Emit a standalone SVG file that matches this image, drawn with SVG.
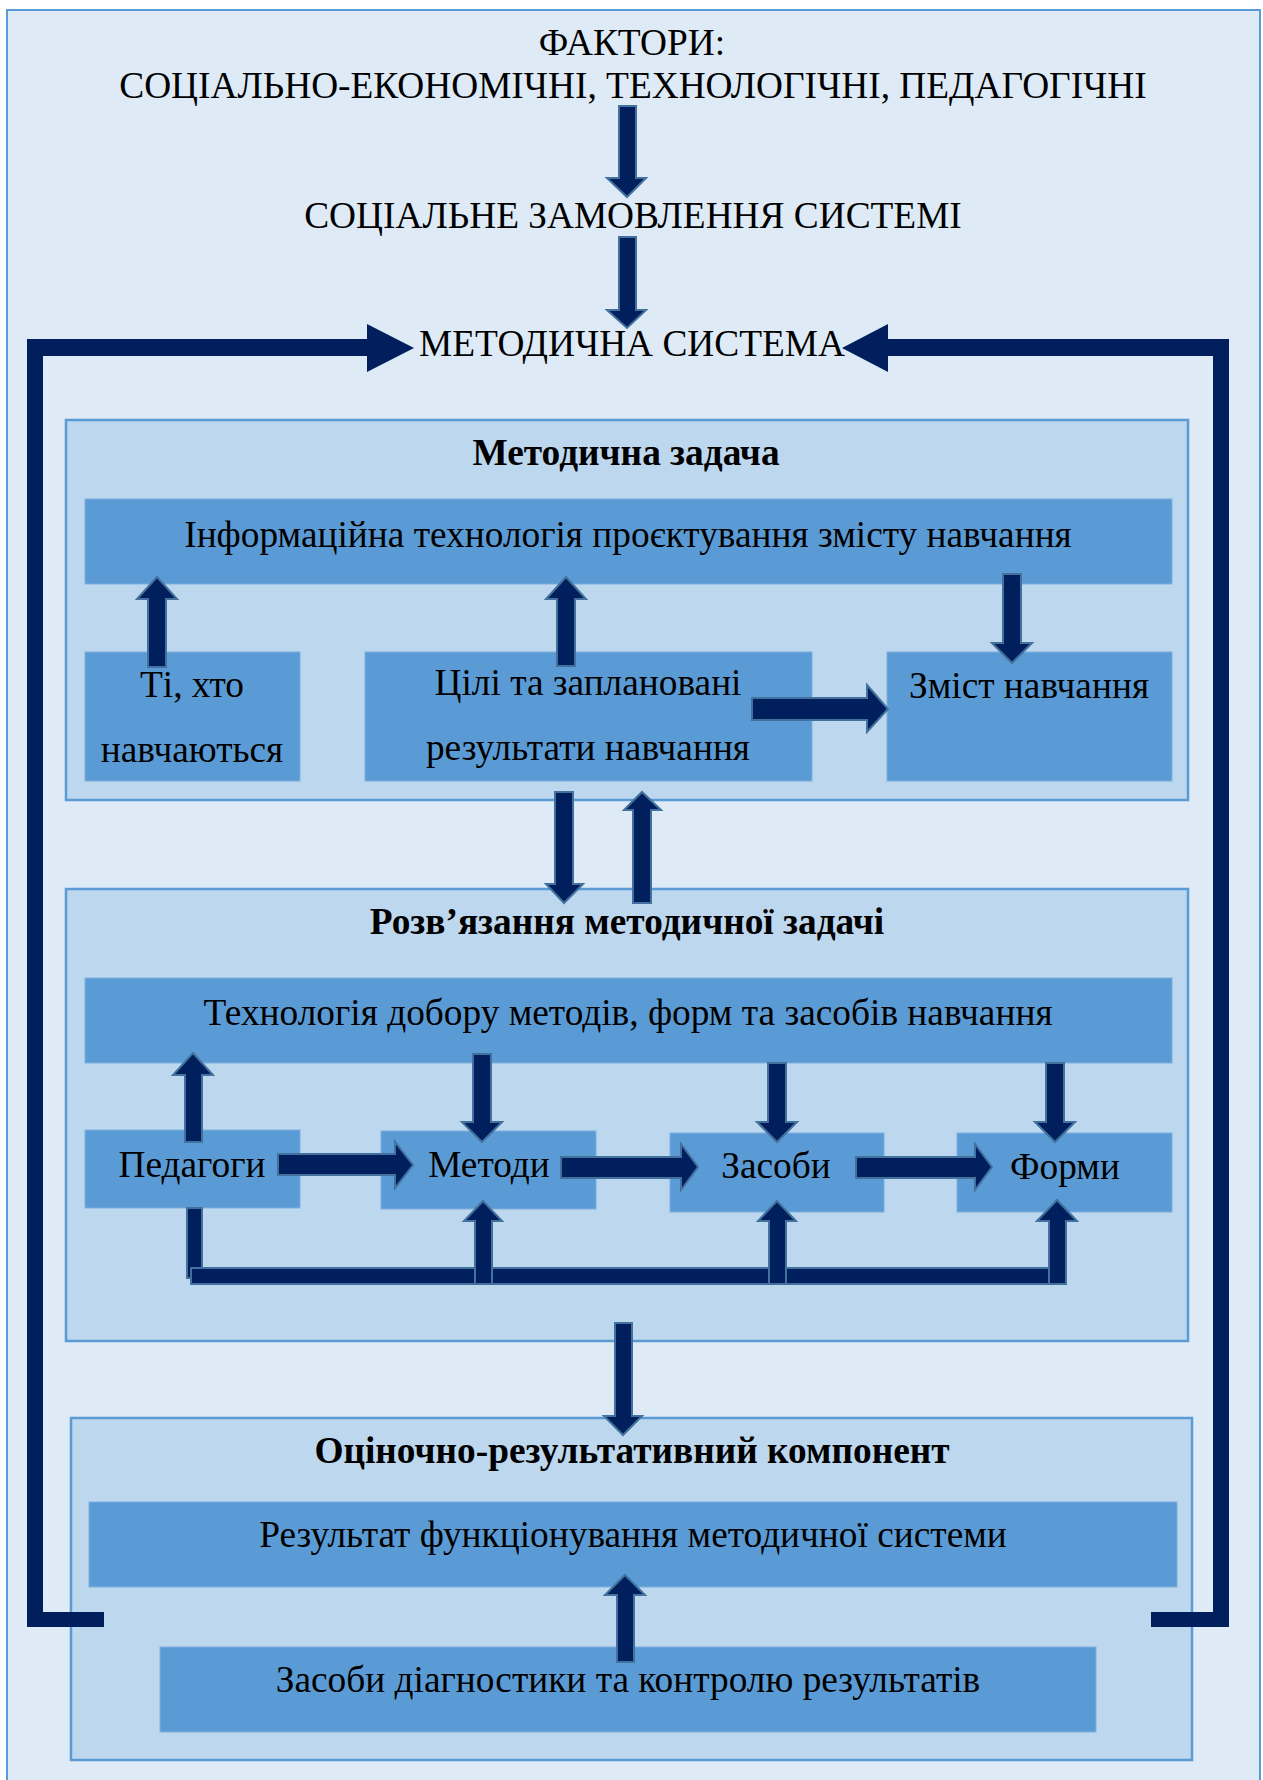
<svg xmlns="http://www.w3.org/2000/svg" width="1263" height="1780" viewBox="0 0 1263 1780">
<style>
.bg{fill:#DEEAF6;stroke:#5B9BD5;stroke-width:2}
.panel{fill:#BDD7EE;stroke:#5B9BD5;stroke-width:2.5}
.bar{fill:#5B9BD5;stroke:#7FB0DD;stroke-width:1}
.t{font-family:'Liberation Serif','Times New Roman',serif;font-size:37.33px;fill:#000;text-anchor:middle}
.b{font-weight:bold}
.ar{fill:#001F5C;stroke:#41719C;stroke-width:2;stroke-linejoin:miter}
.big{fill:#001F5C}
</style>
<rect class="bg" x="7" y="10" width="1253" height="1775"/>

<g id="header">
<text class="t" x="632" y="55" style="font-family:'Liberation Serif',serif">ФАКТОРИ:</text>
<text class="t" x="633" y="98" style="font-family:'Liberation Serif',serif">СОЦІАЛЬНО-ЕКОНОМІЧНІ, ТЕХНОЛОГІЧНІ, ПЕДАГОГІЧНІ</text>
</g>
<g id="social-order"><text class="t" x="633" y="228" style="font-family:'Liberation Serif',serif">СОЦІАЛЬНЕ ЗАМОВЛЕННЯ СИСТЕМІ</text></g>
<g id="method-system"><text class="t" x="632" y="356" style="font-family:'Liberation Serif',serif">МЕТОДИЧНА СИСТЕМА</text></g>

<g id="panel-task">
<rect class="panel" x="66" y="420" width="1122" height="380"/>
<text class="t b" x="626" y="465" style="font-family:'Liberation Serif',serif">Методична задача</text>
</g>
<g id="info-tech">
<rect class="bar" x="85" y="499" width="1087" height="85"/>
<text class="t" x="628" y="547" style="font-family:'Liberation Serif',serif">Інформаційна технологія проєктування змісту навчання</text>
</g>
<g id="learners">
<rect class="bar" x="85" y="652" width="215" height="129"/>
<text class="t" x="192" y="697" style="font-family:'Liberation Serif',serif">Ті, хто</text>
<text class="t" x="192" y="762" style="font-family:'Liberation Serif',serif">навчаються</text>
</g>
<g id="goals">
<rect class="bar" x="365" y="652" width="447" height="129"/>
<text class="t" x="588" y="695" style="font-family:'Liberation Serif',serif">Цілі та заплановані</text>
<text class="t" x="588" y="760" style="font-family:'Liberation Serif',serif">результати навчання</text>
</g>
<g id="content">
<rect class="bar" x="887" y="652" width="285" height="129"/>
<text class="t" x="1029" y="698" style="font-family:'Liberation Serif',serif">Зміст навчання</text>
</g>

<g id="panel-solution">
<rect class="panel" x="66" y="889" width="1122" height="452"/>
<text class="t b" x="627" y="934" style="font-family:'Liberation Serif',serif">Розв’язання методичної задачі</text>
</g>
<g id="selection-tech">
<rect class="bar" x="85" y="978" width="1087" height="85"/>
<text class="t" x="628" y="1025" style="font-family:'Liberation Serif',serif">Технологія добору методів, форм та засобів навчання</text>
</g>
<g id="teachers">
<rect class="bar" x="85" y="1130" width="215" height="78"/>
<text class="t" x="192" y="1177" style="font-family:'Liberation Serif',serif">Педагоги</text>
</g>
<g id="methods">
<rect class="bar" x="381" y="1131" width="215" height="78"/>
<text class="t" x="489" y="1177" style="font-family:'Liberation Serif',serif">Методи</text>
</g>
<g id="means">
<rect class="bar" x="670" y="1133" width="214" height="79"/>
<text class="t" x="776" y="1178" style="font-family:'Liberation Serif',serif">Засоби</text>
</g>
<g id="forms">
<rect class="bar" x="957" y="1133" width="215" height="79"/>
<text class="t" x="1065" y="1179" style="font-family:'Liberation Serif',serif">Форми</text>
</g>

<g id="panel-evaluation">
<rect class="panel" x="71" y="1418" width="1121" height="342"/>
<text class="t b" x="632" y="1463" style="font-family:'Liberation Serif',serif">Оціночно-результативний компонент</text>
</g>
<g id="result">
<rect class="bar" x="89" y="1502" width="1088" height="85"/>
<text class="t" x="633" y="1547" style="font-family:'Liberation Serif',serif">Результат функціонування методичної системи</text>
</g>
<g id="diagnostics">
<rect class="bar" x="160" y="1647" width="936" height="85"/>
<text class="t" x="628" y="1692" style="font-family:'Liberation Serif',serif">Засоби діагностики та контролю результатів</text>
</g>

<g id="connectors">
<polygon class="ar" points="619,106 636,106 636,178 646,178 627,197 607,178 619,178"/>
<polygon class="ar" points="619,237 636,237 636,310 646,310 627,328 607,310 619,310"/>
<polygon class="big" points="104,1612 43,1612 43,356 367,356 367,372 414,348 367,324 367,339 27,339 27,1627 104,1627"/>
<polygon class="big" points="1151,1612 1213,1612 1213,356 888,356 888,372 842,348 888,324 888,339 1229,339 1229,1627 1151,1627"/>
<polygon class="ar" points="148,667 166,667 166,599 177,599 157,577 137,599 148,599"/>
<polygon class="ar" points="557,666 575,666 575,599 586,599 566,577 546,599 557,599"/>
<polygon class="ar" points="1003,574 1021,574 1021,643 1032,643 1012,663 992,643 1003,643"/>
<polygon class="ar" points="752,698 867,698 867,685 888,709 867,732 867,720 752,720"/>
<polygon class="ar" points="555,792 573,792 573,884 583,884 564,903 546,884 555,884"/>
<polygon class="ar" points="633,903 651,903 651,810 661,810 642,792 624,810 633,810"/>
<polygon class="ar" points="185,1142 202,1142 202,1075 213,1075 193,1053 173,1075 185,1075"/>
<polygon class="ar" points="473,1054 491,1054 491,1122 502,1122 482,1142 462,1122 473,1122"/>
<polygon class="ar" points="768,1063 786,1063 786,1122 797,1122 777,1142 757,1122 768,1122"/>
<polygon class="ar" points="1046,1063 1064,1063 1064,1122 1075,1122 1055,1142 1035,1122 1046,1122"/>
<polygon class="ar" points="278,1154 395,1154 395,1142 413,1165 395,1188 395,1175 278,1175"/>
<polygon class="ar" points="561,1157 681,1157 681,1144 698,1167 681,1190 681,1178 561,1178"/>
<polygon class="ar" points="856,1157 975,1157 975,1144 992,1167 975,1190 975,1178 856,1178"/>
<rect class="ar" x="187" y="1208" width="15" height="70"/>
<rect class="ar" x="191" y="1268" width="862" height="16"/>
<polygon class="ar" points="475,1284 492,1284 492,1221 502,1221 483,1201 464,1221 475,1221"/>
<polygon class="ar" points="769,1284 786,1284 786,1221 796,1221 777,1201 758,1221 769,1221"/>
<polygon class="ar" points="1049,1284 1066,1284 1066,1221 1077,1221 1057,1200 1037,1221 1049,1221"/>
<polygon class="ar" points="615,1323 632,1323 632,1416 642,1416 623,1435 604,1416 615,1416"/>
<polygon class="ar" points="617,1662 634,1662 634,1595 645,1595 625,1575 605,1595 617,1595"/>
</g>
</svg>
